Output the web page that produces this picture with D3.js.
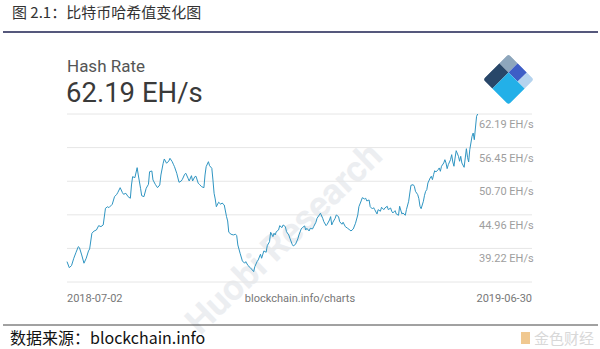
<!DOCTYPE html>
<html>
<head>
<meta charset="utf-8">
<script src="https://cdn.jsdelivr.net/npm/d3@7"></script>
<style>
  body { margin: 0; background: #fff; }
  svg { display: block; }
</style>
</head>
<body>
<div class="chart"></div>
<script>
// days since 2018-07-02, and hash rate in EH/s
var days = [0, 2, 4, 6, 8, 10, 11, 13, 15, 17, 19, 20, 22, 24, 26, 28, 30, 32, 34, 36, 37, 40, 42, 44, 45, 47, 49, 50, 52, 54, 56, 57, 58, 60, 62, 63, 65, 66, 68, 70, 72, 73, 75, 76, 78, 80, 82, 83, 85, 86, 88, 90, 91, 93, 94, 95, 97, 99, 101, 102, 104, 105, 107, 108, 110, 111, 113, 114, 116, 117, 119, 121, 122, 123, 125, 126, 128, 129, 130, 131, 132, 134, 136, 137, 139, 141, 142, 143, 145, 147, 149, 150, 151, 153, 155, 157, 158, 160, 162, 163, 165, 166, 168, 169, 171, 172, 174, 176, 177, 179, 180, 182, 183, 184, 185, 187, 188, 190, 191, 193, 194, 196, 197, 199, 200, 202, 204, 205, 207, 208, 210, 211, 212, 214, 215, 217, 218, 220, 221, 223, 224, 226, 227, 229, 230, 232, 233, 234, 235, 237, 238, 240, 241, 243, 244, 246, 248, 250, 251, 253, 255, 257, 258, 260, 261, 263, 264, 265, 267, 268, 270, 271, 272, 274, 275, 277, 278, 280, 281, 283, 284, 286, 287, 288, 290, 291, 293, 294, 296, 297, 299, 300, 302, 303, 304, 306, 307, 308, 310, 311, 312, 313, 315, 316, 317, 318, 319, 321, 322, 323, 324, 325, 326, 328, 329, 330, 331, 333, 334, 335, 336, 337, 339, 340, 341, 342, 343, 344, 346, 347, 348, 349, 351, 352, 353, 354, 355, 356, 358, 359, 360, 361, 362, 363];
var hashRate = [36.96, 35.93, 36.28, 37.54, 38.56, 39.52, 39.35, 38.10, 36.69, 37.54, 38.79, 39.13, 41.81, 42.20, 42.37, 43.11, 42.94, 43.23, 46.08, 46.35, 46.18, 46.76, 48.06, 48.47, 48.81, 49.60, 48.75, 48.47, 48.64, 48.06, 47.79, 50.06, 51.48, 51.31, 53.02, 51.77, 49.50, 48.23, 48.06, 49.50, 50.18, 52.33, 52.45, 50.92, 50.18, 49.60, 50.06, 51.77, 53.77, 54.50, 53.77, 54.16, 54.62, 54.04, 53.60, 53.19, 52.06, 50.52, 50.74, 51.03, 51.89, 52.06, 51.21, 50.74, 51.65, 50.74, 51.48, 51.55, 50.35, 50.18, 49.77, 49.60, 51.77, 53.19, 54.04, 53.36, 52.91, 50.92, 48.64, 47.67, 46.35, 47.11, 46.76, 46.99, 46.64, 44.65, 43.91, 41.98, 41.64, 41.52, 41.64, 41.40, 39.81, 38.39, 37.08, 36.69, 36.96, 36.28, 35.93, 35.71, 35.25, 36.10, 36.96, 37.25, 38.22, 37.54, 38.79, 38.56, 39.69, 40.37, 41.98, 41.23, 41.81, 41.52, 42.08, 42.37, 43.11, 42.77, 43.23, 42.94, 42.08, 41.52, 40.96, 39.93, 39.64, 39.93, 40.84, 41.52, 42.54, 42.77, 43.06, 42.37, 42.66, 42.20, 42.66, 42.54, 42.94, 43.69, 44.37, 44.94, 45.23, 44.37, 43.79, 43.11, 43.35, 44.08, 44.65, 43.23, 43.69, 44.37, 44.94, 44.65, 43.79, 43.35, 43.69, 42.94, 42.66, 42.37, 42.20, 42.54, 43.52, 44.94, 46.35, 47.33, 47.89, 47.67, 47.79, 47.33, 47.50, 46.35, 45.96, 46.18, 45.84, 45.11, 45.84, 45.57, 46.25, 45.84, 46.13, 46.42, 45.84, 46.13, 45.57, 45.28, 45.67, 45.11, 44.88, 46.42, 45.11, 45.28, 44.88, 45.84, 47.28, 48.69, 50.01, 50.11, 49.84, 48.98, 48.40, 47.72, 46.42, 46.01, 47.28, 48.30, 48.98, 49.26, 50.40, 51.26, 51.55, 50.97, 51.82, 52.50, 52.28, 52.67, 52.97, 52.40, 53.26, 53.82, 54.38, 53.82, 52.85, 53.53, 54.38, 55.24, 53.99, 53.26, 54.67, 55.92, 54.96, 54.11, 54.96, 53.82, 53.08, 54.67, 56.26, 54.79, 53.99, 56.09, 58.38, 58.94, 57.80, 59.80, 61.80, 62.19];

var gridValues = [33.48, 39.22, 44.96, 50.70, 56.45, 62.19];
var tickLabels = ["", "39.22 EH/s", "44.96 EH/s", "50.70 EH/s", "56.45 EH/s", "62.19 EH/s"];
var startLabel = "2018-07-02";
var endLabel = "2019-06-30";

var svgWidth = 600;
var svgHeight = 349;

var svg = d3.select(".chart")
  .append("svg")
  .attr("width", svgWidth)
  .attr("height", svgHeight);

var parseDate = d3.timeParse("%Y-%m-%d");
var startDate = parseDate(startLabel);
var endDate = parseDate(endLabel);

var data = days.map(function (d, i) {
  return { date: d3.timeDay.offset(startDate, d), value: hashRate[i] };
});

// plot frame
var frameLeft = 67, frameRight = 532, lineRight = 477.7;

var xScale = d3.scaleTime()
  .domain([startDate, endDate])
  .range([frameLeft, lineRight]);

var yScale = d3.scaleLinear()
  .domain([33.48, 62.19])
  .range([282, 114]);

// faint watermark
svg.append("text")
  .attr("transform", "translate(200,336) rotate(-44)")
  .style("font-family", "Roboto, 'Open Sans', sans-serif")
  .style("font-weight", "bold")
  .style("font-size", "36px")
  .attr("fill", "#eceef1")
  .text("Huobi Research");

// header
svg.append("text")
  .attr("x", 12)
  .attr("y", 18)
  .style("font-family", "'Noto Sans CJK SC', sans-serif")
  .style("font-size", "15px")
  .attr("fill", "#333")
  .text("图 2.1：比特币哈希值变化图");

svg.append("line")
  .attr("x1", 3).attr("x2", 598)
  .attr("y1", 32).attr("y2", 32)
  .attr("stroke", "#1d2150")
  .attr("stroke-width", 1.6);

// titles
svg.append("text")
  .attr("x", 67)
  .attr("y", 72)
  .style("font-family", "Roboto, sans-serif")
  .style("font-size", "17px")
  .attr("fill", "#555")
  .text("Hash Rate");

svg.append("text")
  .attr("x", 66)
  .attr("y", 101.5)
  .style("font-family", "Roboto, sans-serif")
  .style("font-size", "27.5px")
  .attr("fill", "#3a3a3a")
  .text("62.19 EH/s");

// logo
var logo = svg.append("g")
  .attr("transform", "translate(508.5,54) rotate(45)");
var side = 36;
logo.append("clipPath")
  .attr("id", "logoClip")
  .append("rect")
  .attr("width", side).attr("height", side)
  .attr("rx", 3);
var pieces = logo.append("g").attr("clip-path", "url(#logoClip)");
var logoParts = [
  [0, 0, 13, 13, "#8da6bc"],
  [0, 13, 13, 23, "#284769"],
  [13, 0, 13, 13, "#3e5ec6"],
  [26, 0, 10, 13, "#b5d3ee"],
  [13, 13, 23, 23, "#23b0e8"]
];
logoParts.forEach(function (p) {
  pieces.append("rect")
    .attr("x", p[0]).attr("y", p[1])
    .attr("width", p[2]).attr("height", p[3])
    .attr("fill", p[4]);
});

// gridlines + labels
var grid = svg.append("g");
grid.selectAll("line")
  .data(gridValues)
  .enter()
  .append("line")
  .attr("x1", frameLeft).attr("x2", frameRight)
  .attr("y1", d => yScale(d)).attr("y2", d => yScale(d))
  .attr("stroke", "#e6e6e6")
  .attr("stroke-width", 1);

grid.selectAll("text")
  .data(gridValues)
  .enter()
  .append("text")
  .attr("x", 479)
  .attr("y", d => yScale(d) + 14)
  .style("font-family", "Roboto, sans-serif")
  .style("font-size", "11px")
  .attr("fill", "#9e9e9e")
  .text((d, i) => tickLabels[i]);

// hash rate line
var line = d3.line()
  .x(d => xScale(d.date))
  .y(d => yScale(d.value));

svg.append("path")
  .datum(data)
  .attr("d", line)
  .attr("fill", "none")
  .attr("stroke", "#2f95c2")
  .attr("stroke-width", 1)
  .attr("stroke-linejoin", "round");

// bottom labels
var bottom = svg.append("g")
  .style("font-family", "Roboto, sans-serif")
  .style("font-size", "11px")
  .attr("fill", "#777");

bottom.append("text")
  .attr("x", xScale(startDate))
  .attr("y", 302)
  .text(startLabel);

bottom.append("text")
  .attr("x", 300)
  .attr("y", 302)
  .attr("text-anchor", "middle")
  .text("blockchain.info/charts");

bottom.append("text")
  .attr("x", frameRight)
  .attr("y", 302)
  .attr("text-anchor", "end")
  .text(endLabel);

// footer
svg.append("line")
  .attr("x1", 3).attr("x2", 598)
  .attr("y1", 325).attr("y2", 325)
  .attr("stroke", "#444")
  .attr("stroke-width", 1);

svg.append("text")
  .attr("x", 10)
  .attr("y", 344)
  .style("font-family", "'Noto Sans CJK SC', sans-serif")
  .style("font-size", "16px")
  .attr("fill", "#111")
  .text("数据来源：blockchain.info");

svg.append("rect")
  .attr("x", 521).attr("y", 332)
  .attr("width", 9).attr("height", 12)
  .attr("fill", "#f0c890");

svg.append("text")
  .attr("x", 534)
  .attr("y", 344)
  .style("font-family", "'Noto Sans CJK SC', sans-serif")
  .style("font-size", "15px")
  .attr("fill", "#d8d8d8")
  .text("金色财经");
</script>
</body>
</html>
